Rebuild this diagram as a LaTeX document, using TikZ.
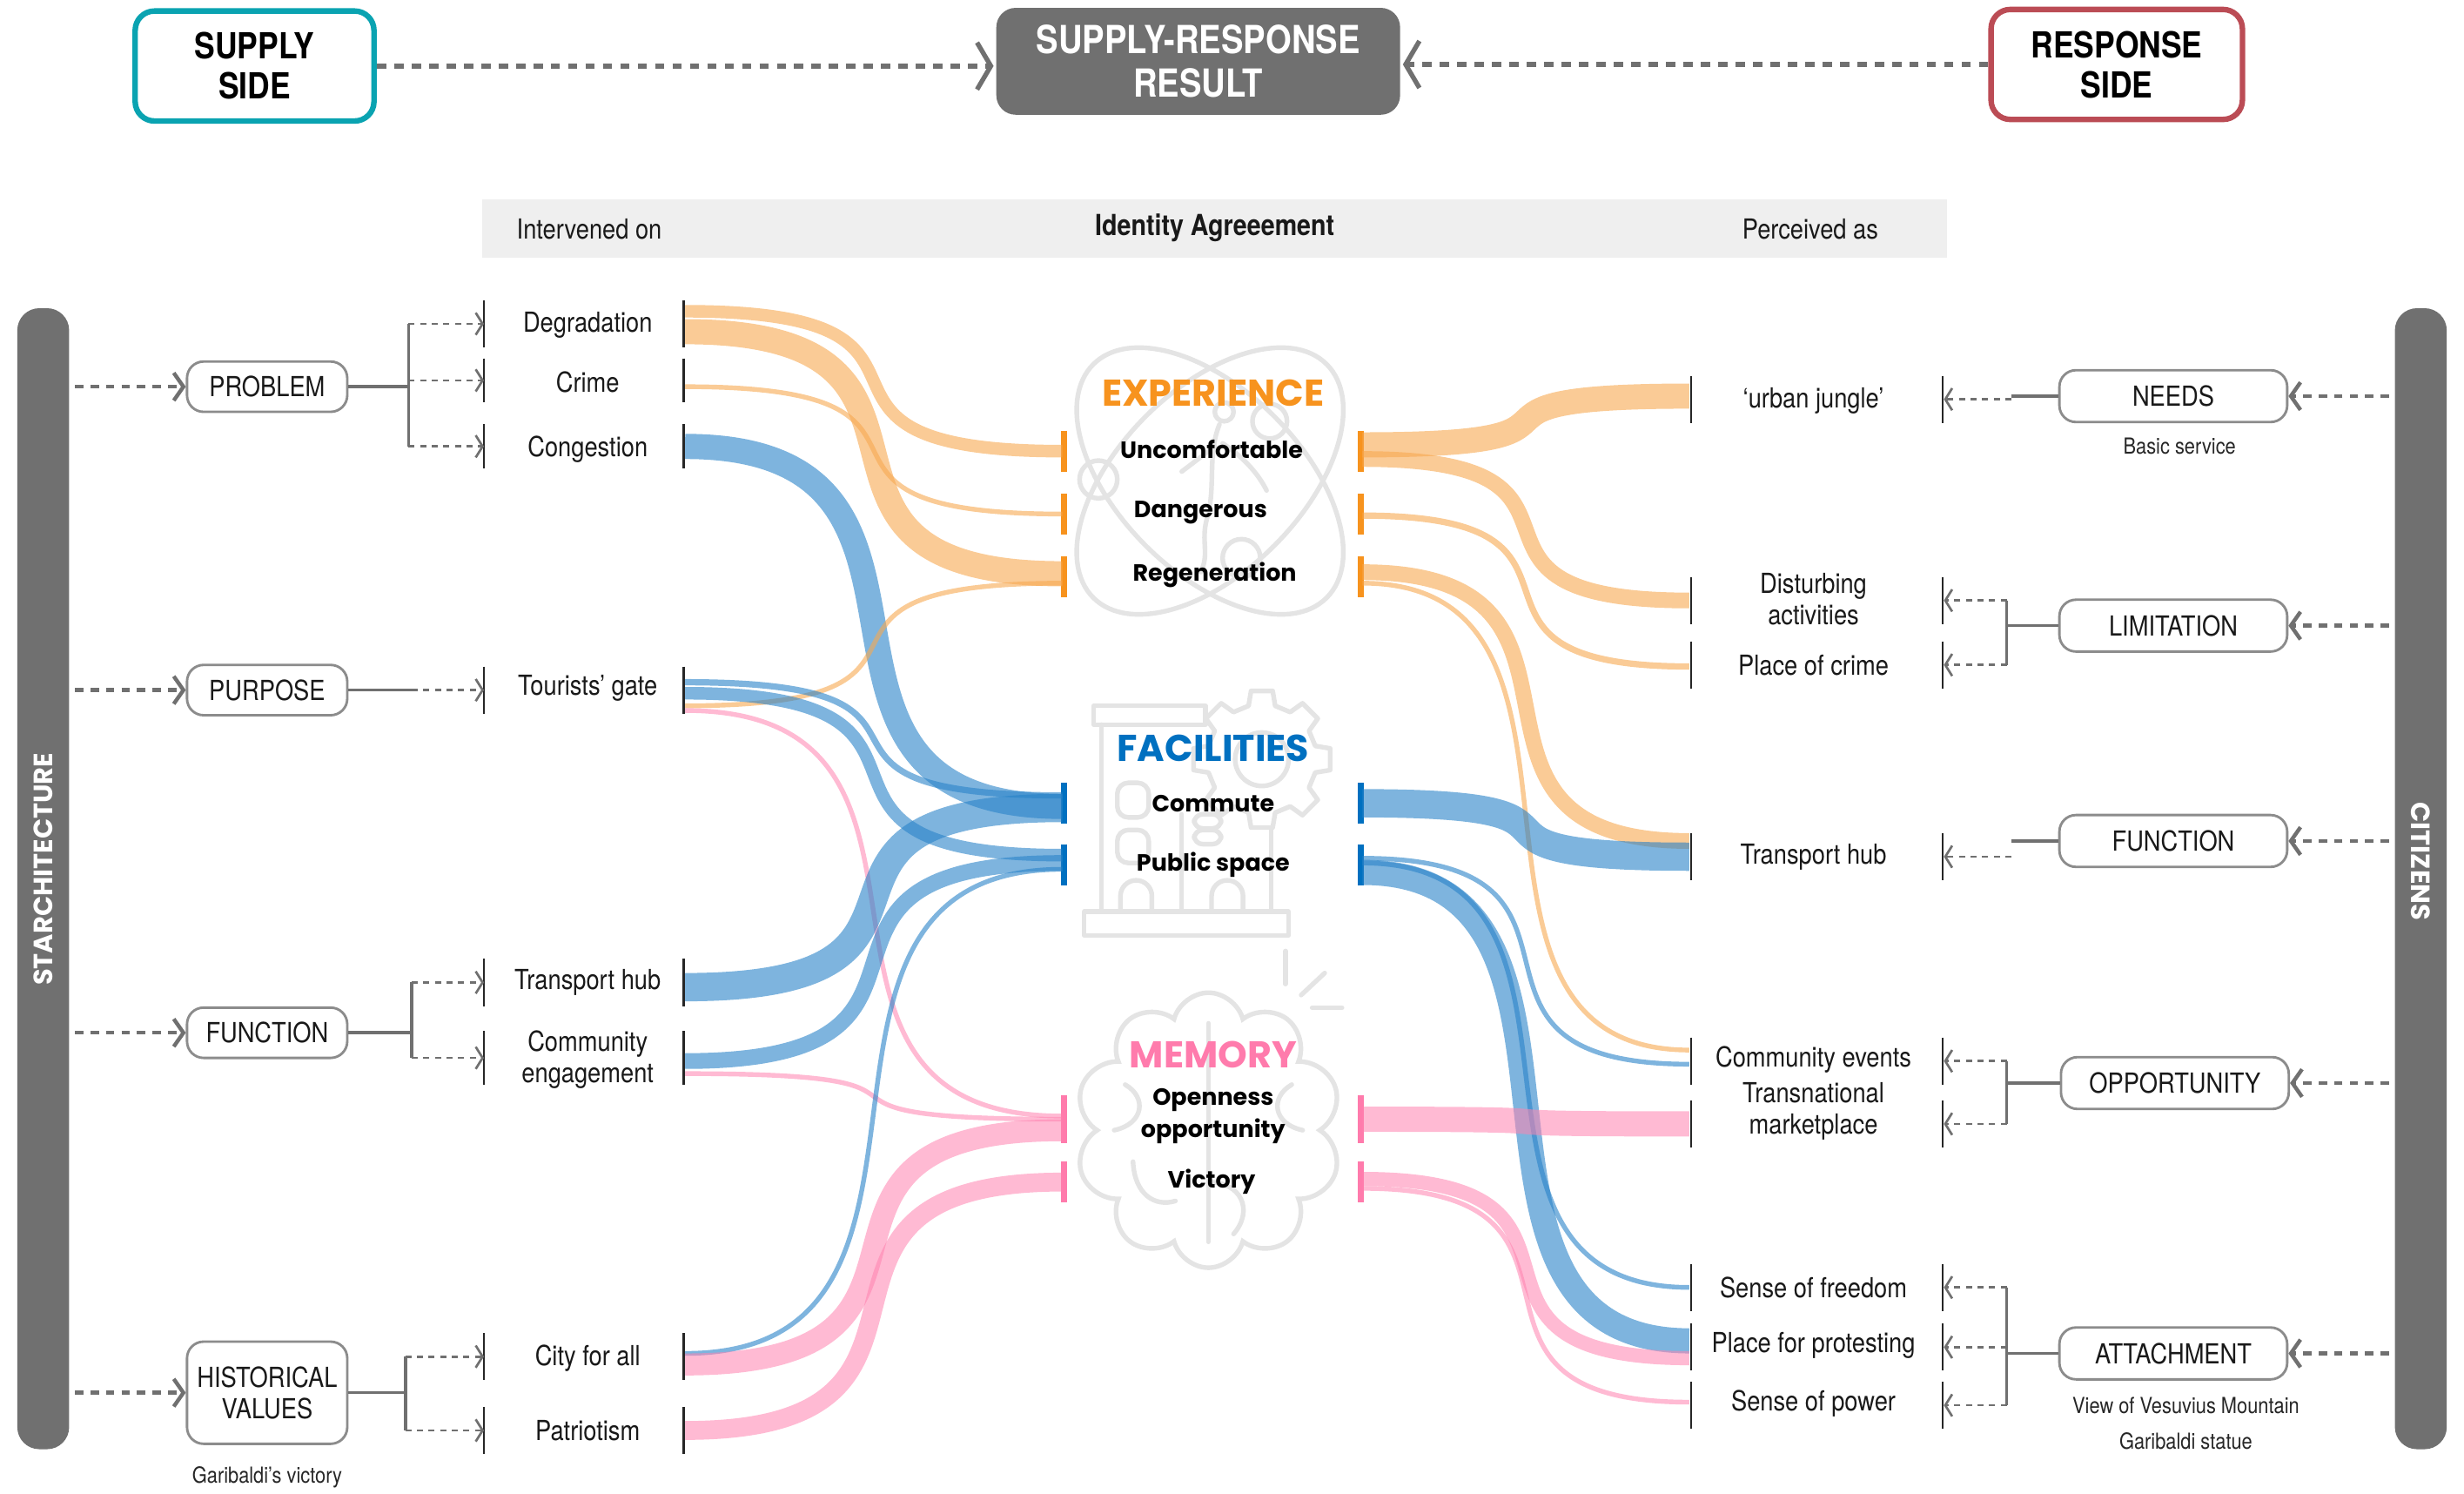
\documentclass[tikz,border=0pt]{standalone}
\usepackage{fontspec}
\usetikzlibrary{arrows.meta,calc,shapes.symbols}
\setmainfont{TeX Gyre Heros}[FakeStretch=0.86]
\newfontfamily\popfont{Poppins}

\definecolor{supc}{RGB}{10,163,177}
\definecolor{resc}{RGB}{187,76,85}
\definecolor{darkg}{RGB}{112,112,112}
\definecolor{hdrg}{RGB}{239,239,239}
\definecolor{boxg}{RGB}{140,140,140}
\definecolor{iconc}{RGB}{228,228,228}
\definecolor{oT}{RGB}{247,147,30}
\definecolor{bT}{RGB}{0,112,192}
\definecolor{pT}{RGB}{255,123,172}
\definecolor{oF}{RGB}{247,168,80}
\definecolor{bF}{RGB}{40,130,200}
\definecolor{pF}{RGB}{255,130,175}

\tikzset{
  lbl/.style={font=\fontsize{10}{11.4}\selectfont, text=black!90, align=center, inner sep=0pt},
  note/.style={font=\fontsize{8}{10}\selectfont, text=black!85, inner sep=0pt},
  catL/.style={draw=boxg, line width=0.9pt, rounded corners=6pt, fill=white,
    minimum width=2.04cm, minimum height=0.64cm, inner sep=0pt, align=center,
    font=\fontsize{10}{11.4}\selectfont, text=black!90},
  catR/.style={catL, minimum width=2.9cm, minimum height=0.66cm},
  topbox/.style={line width=2pt, rounded corners=7pt, fill=white, align=center,
    minimum height=1.4cm, inner sep=0pt, font=\fontsize{13}{14.5}\selectfont\bfseries},
  brk/.style={line width=0.7pt, black!85},
  cbar/.style={line width=2.4pt},
  iconst/.style={draw=iconc, line width=1.7pt, line cap=round, line join=round},
  fo/.style={draw=oF, draw opacity=0.6},
  fb/.style={draw=bF, draw opacity=0.6},
  fp/.style={draw=pF, draw opacity=0.55},
  toparr/.style={darkg, line width=1.7pt, dash pattern=on 3.4pt off 2.9pt,
    -{Straight Barb[length=5pt,width=17pt]}},
  sidearr/.style={darkg, line width=1.4pt, dash pattern=on 3pt off 2.6pt,
    -{Straight Barb[length=3.5pt,width=10pt]}},
  treearr/.style={darkg, line width=0.85pt, dash pattern=on 2.2pt off 2pt,
    -{Straight Barb[length=2.5pt,width=8pt]}},
  treeline/.style={darkg, line width=1.1pt},
  ctitle/.style={font=\popfont\bfseries\fontsize{13.5}{16}\selectfont, inner sep=0pt},
  citem/.style={font=\popfont\bfseries\fontsize{8.5}{11.4}\selectfont, inner sep=0pt, align=center},
  sidebar/.style={fill=darkg, rounded corners=8pt, minimum width=0.66cm,
    minimum height=14.52cm, inner sep=0pt},
  barlbl/.style={text=white, font=\popfont\bfseries\fontsize{9.6}{11}\selectfont, inner sep=0pt}
}

% left-hand item with its two brackets
\newcommand\itemL[5]{%
  \node[lbl] (#1) at (374,#4) {#5};
  \draw[brk] (308,#2-#3) -- (308,#2+#3);
  \draw[brk] (435,#2-#3) -- (435,#2+#3);
  \coordinate (#1-t) at (308,#2);
  \coordinate (#1-f) at (436,#2);}
% right-hand item with its two brackets
\newcommand\itemR[5]{%
  \node[lbl] (#1) at (1154,#4) {#5};
  \draw[brk] (1076,#2-#3) -- (1076,#2+#3);
  \draw[brk] (1236,#2-#3) -- (1236,#2+#3);
  \coordinate (#1-f) at (1075,#2);
  \coordinate (#1-t) at (1237,#2);}
% coloured end bars of a central category
\newcommand\crow[4]{%
  \draw[cbar, #3] (677,#2-#4) -- (677,#2+#4);
  \draw[cbar, #3] (866,#2-#4) -- (866,#2+#4);
  \coordinate (#1-L) at (676,#2);
  \coordinate (#1-R) at (867,#2);}
% flow bands: style, width, from, dy, to, dy
\newcommand\flowL[6]{%
  \draw[#1, line width=#2*0.02cm] ($(#3)+(0,#4)$) .. controls +(200,0) and +(-200,0) .. ($(#5)+(0,#6)$);}
\newcommand\flowR[6]{%
  \draw[#1, line width=#2*0.02cm] ($(#3)+(0,#4)$) .. controls +(175,0) and +(-175,0) .. ($(#5)+(0,#6)$);}

\begin{document}
\begin{tikzpicture}[x=0.02cm, y=-0.02cm]
\useasboundingbox (0,0) rectangle (1568,950);

% ---------- background icons ----------
% experience: two crossing loops with a dancer
\draw[iconst, rotate around={45:(770,306)}] (770,306) ellipse [x radius=105, y radius=58];
\draw[iconst, rotate around={-45:(770,306)}] (770,306) ellipse [x radius=105, y radius=58];
\draw[iconst] (699,305) circle [radius=12];
\draw[iconst] (808,268) circle [radius=11];
\draw[iconst] (790,355) circle [radius=12];
\draw[iconst] (779,262) circle [radius=6];
\draw[iconst] (776,270) .. controls (768,290) and (774,310) .. (768,330)
  .. controls (764,345) and (770,352) .. (764,364);
\draw[iconst] (773,284) -- (752,300);
\draw[iconst] (778,282) .. controls (790,290) and (800,300) .. (806,312);

% facilities: gear behind a building
\begin{scope}[shift={(803,483)}]
  \draw[iconst] (-9:44) \foreach \a in {0,45,...,315}{ -- (\a-9:44) -- (\a+9:44) -- (\a+14:35) -- (\a+31:35)} -- cycle;
  \draw[iconst] (0,0) circle [radius=17];
\end{scope}
\draw[iconst, fill=white] (696,449) rectangle (767,461);
\draw[iconst] (701,461) -- (701,580);
\draw[iconst] (809,528) -- (809,580);
\draw[iconst] (690,580) rectangle (820,595);
\draw[iconst, rounded corners=4pt] (711,498) rectangle (731,520);
\draw[iconst, rounded corners=4pt] (711,528) rectangle (731,549);
\draw[iconst] (752,518) -- (752,578);
\draw[iconst, rounded corners=3pt] (760,518) rectangle (777,527);
\draw[iconst, rounded corners=3pt] (760,528) rectangle (777,537);
\draw[iconst] (713,580) -- (713,570) arc [start angle=180, end angle=360, radius=10] -- (733,580);
\draw[iconst] (771,580) -- (771,570) arc [start angle=180, end angle=360, radius=10] -- (791,580);

% memory: brain with a spark
\node[cloud, cloud puffs=10, aspect=1, draw=iconc, line width=1.7pt,
  minimum width=3.4cm, minimum height=3.5cm] (brain) at (769,719) {};
\draw[iconst] (769,651) -- (769,790);
\draw[iconst] (709,719) .. controls (728,715) and (730,698) .. (716,690);
\draw[iconst] (721,739) .. controls (722,760) and (735,768) .. (748,764);
\draw[iconst] (829,719) .. controls (810,715) and (808,698) .. (822,690);
\draw[iconst] (769,752) .. controls (790,752) and (798,770) .. (785,785);
\draw[iconst] (818,605) -- (818,626);
\draw[iconst] (828,633) -- (843,619);
\draw[iconst] (835,641) -- (854,641);

% ---------- top row ----------
\node[topbox, draw=supc, minimum width=3.04cm] (supply) at (162,42) {SUPPLY\\SIDE};
\node[topbox, fill=darkg, draw=none, text=white, minimum width=5.14cm, minimum height=1.36cm,
  font=\fontsize{14}{16}\selectfont\bfseries] (result) at (762.5,39) {SUPPLY-RESPONSE\\RESULT};
\node[topbox, draw=resc, minimum width=3.2cm] (response) at (1347,41) {RESPONSE\\SIDE};
\draw[toparr] (supply.east) -- (supply.east -| result.west);
\draw[toparr] (response.west) -- (response.west -| result.east);

% ---------- header band ----------
\node[fill=hdrg, minimum width=18.64cm, minimum height=0.74cm, inner sep=0pt] (hdr) at (773,145.5) {};
\node[lbl] (hdrL) at (375,146) {Intervened on};
\node[lbl, font=\fontsize{10.5}{12}\selectfont\bfseries] (hdrM) at (773,145) {Identity Agreeement};
\node[lbl] (hdrR) at (1152,146) {Perceived as};

% ---------- side bars ----------
\node[sidebar] (stbar) at (27.5,559) {};
\node[barlbl, rotate=90] (stlbl) at (27.5,553) {STARCHITECTURE};
\node[sidebar] (ctbar) at (1540.5,559) {};
\node[barlbl, rotate=-90] (ctlbl) at (1540.5,548) {CITIZENS};

% ---------- supply categories ----------
\node[catL] (problem) at (170,246) {PROBLEM};
\node[catL] (purpose) at (170,439) {PURPOSE};
\node[catL] (functionL) at (170,657) {FUNCTION};
\node[catL, minimum height=1.3cm] (history) at (170,886) {HISTORICAL\\VALUES};
\node[note] (garib) at (170,940) {Garibaldi’s victory};

\foreach \c in {problem,purpose,functionL,history}
  \draw[sidearr, shorten <=2pt] (stbar.east |- \c.west) -- (\c.west);

% ---------- supply items ----------
\itemL{degr}{206}{15}{207}{Degradation}
\itemL{crime}{242}{14}{243}{Crime}
\itemL{cong}{284}{14}{286}{Congestion}
\itemL{tour}{439}{15}{438}{Tourists’ gate}
\itemL{thub}{625}{15}{625}{Transport hub}
\itemL{comm}{673}{17}{674}{Community\\engagement}
\itemL{city}{863}{15}{864}{City for all}
\itemL{patr}{910}{15}{910}{Patriotism}

% supply trees
\coordinate (jP) at (260,0);
\draw[treeline] (problem.east) -- (jP |- problem.east);
\draw[treeline] (jP |- degr-t) -- (jP |- cong-t);
\foreach \t in {degr,crime,cong} \draw[treearr] (jP |- \t-t) -- (\t-t);
\coordinate (jU) at (262,0);
\draw[treeline] (purpose.east) -- (jU |- purpose.east);
\draw[treearr] (jU |- tour-t) -- (tour-t);
\coordinate (jF) at (262,0);
\draw[treeline] (functionL.east) -- (jF |- functionL.east);
\draw[treeline] (jF |- thub-t) -- (jF |- comm-t);
\foreach \t in {thub,comm} \draw[treearr] (jF |- \t-t) -- (\t-t);
\coordinate (jH) at (258,0);
\draw[treeline] (history.east) -- (jH |- history.east);
\draw[treeline] (jH |- city-t) -- (jH |- patr-t);
\foreach \t in {city,patr} \draw[treearr] (jH |- \t-t) -- (\t-t);

% ---------- response categories ----------
\node[catR] (needs) at (1383,252) {NEEDS};
\node[note] (basic) at (1387,284) {Basic service};
\node[catR] (limit) at (1383,398) {LIMITATION};
\node[catR] (functionR) at (1383,535) {FUNCTION};
\node[catR] (oppo) at (1384,689) {OPPORTUNITY};
\node[catR] (attach) at (1383,861) {ATTACHMENT};
\node[note] (vesuv) at (1391,894) {View of Vesuvius Mountain};
\node[note] (statue) at (1391,917) {Garibaldi statue};

\foreach \c in {needs,limit,functionR,oppo,attach}
  \draw[sidearr, shorten <=2pt] (ctbar.west |- \c.east) -- (\c.east);

% ---------- response items ----------
\itemR{jungle}{254}{15}{255}{‘urban jungle’}
\itemR{dist}{382}{15}{381}{Disturbing\\activities}
\itemR{pcrime}{423}{15}{423}{Place of crime}
\itemR{rthub}{545}{15}{545}{Transport hub}
\itemR{cevents}{675}{15}{674}{Community events}
\itemR{market}{715}{15}{707}{Transnational\\marketplace}
\itemR{freedom}{819}{15}{819}{Sense of freedom}
\itemR{protest}{857}{15}{856}{Place for protesting}
\itemR{power}{894}{15}{893}{Sense of power}

% response trees
\coordinate (kN) at (1280,0);
\draw[treeline] (needs.west) -- (kN |- needs.west);
\draw[treearr] (kN |- jungle-t) -- (jungle-t);
\coordinate (kL) at (1277,0);
\draw[treeline] (limit.west) -- (kL |- limit.west);
\draw[treeline] (kL |- dist-t) -- (kL |- pcrime-t);
\foreach \t in {dist,pcrime} \draw[treearr] (kL |- \t-t) -- (\t-t);
\coordinate (kF) at (1280,0);
\draw[treeline] (functionR.west) -- (kF |- functionR.west);
\draw[treearr] (kF |- rthub-t) -- (rthub-t);
\coordinate (kO) at (1277,0);
\draw[treeline] (oppo.west) -- (kO |- oppo.west);
\draw[treeline] (kO |- cevents-t) -- (kO |- market-t);
\foreach \t in {cevents,market} \draw[treearr] (kO |- \t-t) -- (\t-t);
\coordinate (kA) at (1277,0);
\draw[treeline] (attach.west) -- (kA |- attach.west);
\draw[treeline] (kA |- freedom-t) -- (kA |- power-t);
\foreach \t in {freedom,protest,power} \draw[treearr] (kA |- \t-t) -- (\t-t);

% ---------- central categories ----------
\node[ctitle, text=oT] (expT) at (772,250) {EXPERIENCE};
\node[citem] (unc) at (771,286) {Uncomfortable};
\node[citem] (dang) at (764,326) {Dangerous};
\node[citem] (regen) at (773,366) {Regeneration};
\node[ctitle, text=bT] (facT) at (772,476) {FACILITIES};
\node[citem] (commute) at (772,511) {Commute};
\node[citem] (public) at (772,550) {Public space};
\node[ctitle, text=pT] (memT) at (772,671) {MEMORY};
\node[citem] (open) at (772,710) {Openness\\opportunity};
\node[citem] (victory) at (771,752) {Victory};

\crow{unc}{287}{oT}{13}
\crow{dang}{327}{oT}{13}
\crow{regen}{367}{oT}{13}
\crow{commute}{511}{bT}{13}
\crow{public}{550}{bT}{13}
\crow{open}{712}{pT}{15}
\crow{victory}{752}{pT}{13}

% ---------- flows: supply side ----------
\flowL{fo}{8}{degr-f}{-8}{unc-L}{0}
\flowL{fo}{16}{degr-f}{5}{regen-L}{-2}
\flowL{fo}{3}{crime-f}{4}{dang-L}{0}
\flowL{fb}{16}{cong-f}{0}{commute-L}{2}
\flowL{fo}{3}{tour-f}{10}{regen-L}{4}
\flowL{fb}{4}{tour-f}{-5}{commute-L}{-5}
\flowL{fb}{8}{tour-f}{2}{public-L}{-6}
\flowL{fp}{3}{tour-f}{13}{open-L}{-2}
\flowL{fb}{18}{thub-f}{3}{commute-L}{3}
\flowL{fb}{10}{comm-f}{2}{public-L}{-1}
\flowL{fp}{3}{comm-f}{10}{open-L}{0}
\flowL{fb}{3}{city-f}{-2}{public-L}{3}
\flowL{fp}{14}{city-f}{5}{open-L}{7}
\flowL{fp}{12}{patr-f}{0}{victory-L}{0}

% ---------- flows: response side ----------
\flowR{fo}{16}{unc-R}{-4}{jungle-f}{-2}
\flowR{fo}{10}{unc-R}{5}{dist-f}{0}
\flowR{fo}{4}{dang-R}{1}{pcrime-f}{1}
\flowR{fo}{10}{regen-R}{-3}{rthub-f}{-10}
\flowR{fo}{3}{regen-R}{4}{cevents-f}{-7}
\flowR{fb}{18}{commute-R}{0}{rthub-f}{0}
\flowR{fb}{3}{public-R}{-4}{cevents-f}{2}
\flowR{fb}{3}{public-R}{-1}{freedom-f}{0}
\flowR{fb}{16}{public-R}{5}{protest-f}{-4}
\flowR{fp}{16}{open-R}{0}{market-f}{0}
\flowR{fp}{9}{victory-R}{-2}{protest-f}{7}
\flowR{fp}{3}{victory-R}{4}{power-f}{-2}

\end{tikzpicture}
\end{document}
